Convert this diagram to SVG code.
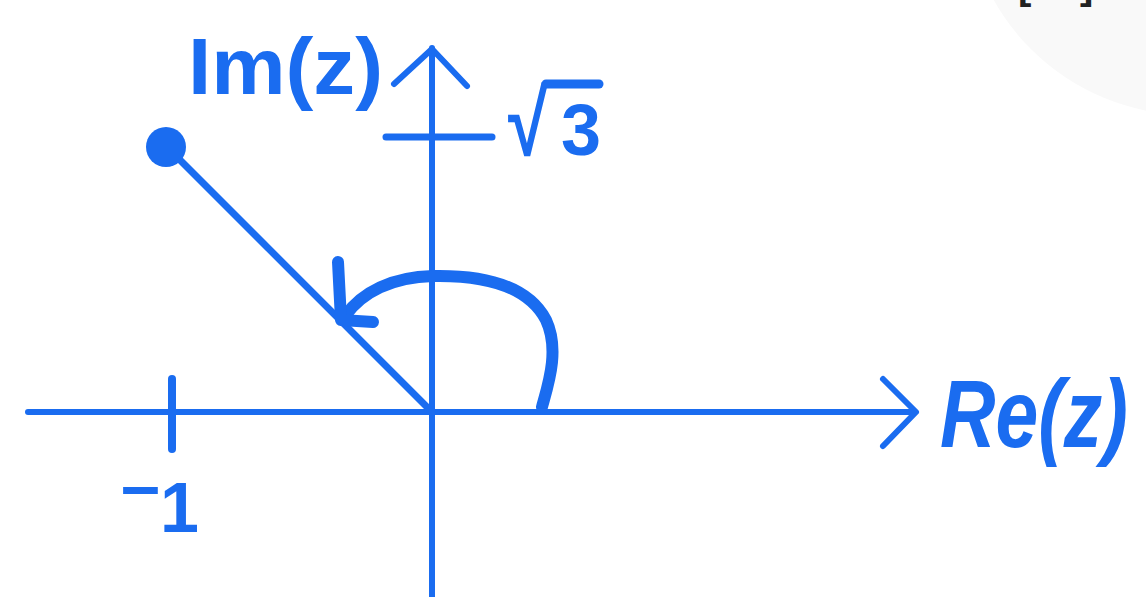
<svg xmlns="http://www.w3.org/2000/svg" width="1146" height="597" viewBox="0 0 1146 597">
<style>
.ln{stroke:#1a6cf0;fill:none;stroke-linecap:round;stroke-linejoin:round}
.lb{fill:#1a6cf0;font-family:"Liberation Sans","DejaVu Sans",sans-serif;font-weight:bold}
</style>
<rect width="1146" height="597" fill="#ffffff"/>
<circle cx="1190" cy="-110" r="225" fill="#f9f9f9"/>
<g id="brackets" fill="#222" font-family="Liberation Sans, sans-serif" font-weight="bold" font-size="40">
<text x="1018" y="-1">[</text>
<text x="1080" y="-1">]</text>
</g>
<g id="connectors">
<line class="ln" x1="28" y1="412" x2="914" y2="412" stroke-width="6"/>
<polyline class="ln" points="883,379 916,412 883,446" stroke-width="6"/>
<line class="ln" x1="432" y1="48" x2="432" y2="600" stroke-width="6"/>
<polyline class="ln" points="394,84 432,49 467,86" stroke-width="6"/>
<line class="ln" x1="386" y1="137" x2="492" y2="137" stroke-width="7"/>
<line class="ln" x1="172" y1="379" x2="172" y2="449" stroke-width="8"/>
<line class="ln" x1="175" y1="155" x2="432" y2="412" stroke-width="7"/>
<path class="ln" d="M542 407 C548 385 560 350 546 320 C528 286 484 275 433 276 C392 277 362 292 345 316" stroke-width="12"/>
<polyline class="ln" points="338,262 341,320 373,322" stroke-width="12"/>
</g>
<g id="point">
<circle cx="166" cy="147" r="20" fill="#1a6cf0"/>
</g>
<g id="label-im">
<text class="lb" x="188" y="94" font-size="80" textLength="195" lengthAdjust="spacingAndGlyphs">Im(z)</text>
</g>
<g id="label-re">
<text class="lb" transform="translate(940,447) scale(0.8,1)" x="0" y="0" font-size="96" font-style="italic">Re(z)</text>
</g>
<g id="label-sqrt3">
<text class="lb" x="508" y="155" font-size="92" font-family="DejaVu Sans, sans-serif" textLength="40" lengthAdjust="spacingAndGlyphs">√</text>
<line class="ln" x1="546" y1="84" x2="599" y2="84" stroke-width="9"/>
<text class="lb" x="561" y="155" font-size="72">3</text>
</g>
<g id="label-minus1">
<text class="lb" x="121" y="532" font-size="70"><tspan dy="-23">–</tspan><tspan dy="23">1</tspan></text>
</g>
</svg>
